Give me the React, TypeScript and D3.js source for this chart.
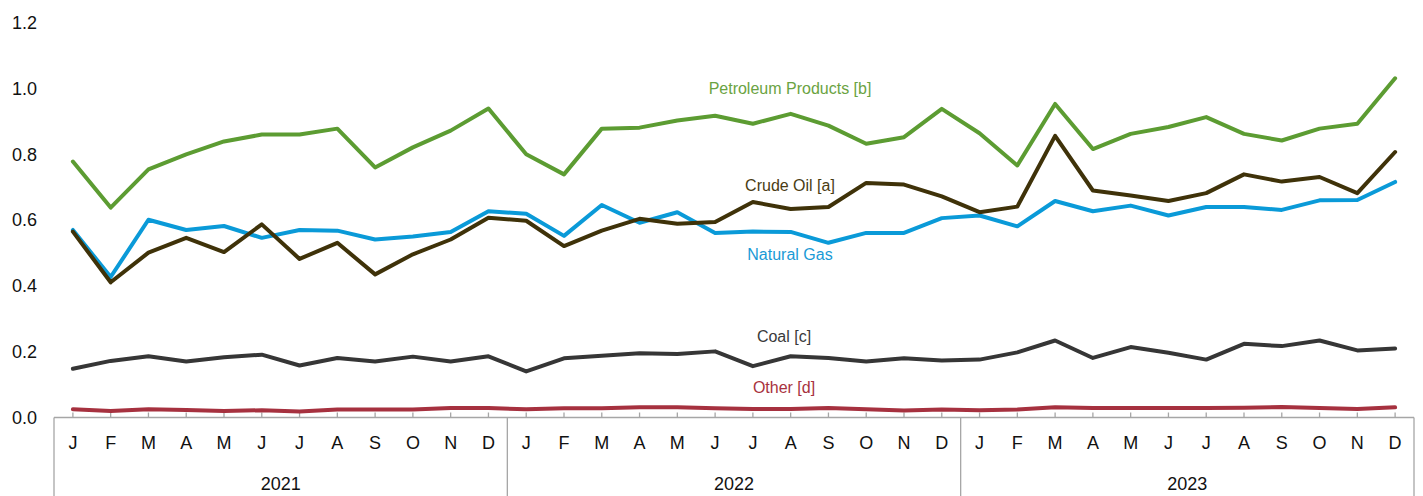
import React, { useEffect, useRef } from 'react';
import * as d3 from 'd3';

const years = ['2021', '2022', '2023'];
const monthLetters = ['J', 'F', 'M', 'A', 'M', 'J', 'J', 'A', 'S', 'O', 'N', 'D'];
const yTicks = [0, 0.2, 0.4, 0.6, 0.8, 1.0, 1.2];

const petroleum = [
  0.778, 0.638, 0.754, 0.80, 0.839, 0.860, 0.860, 0.878, 0.760, 0.821, 0.872, 0.939,
  0.800, 0.739, 0.878, 0.881, 0.903, 0.917, 0.893, 0.923, 0.887, 0.832, 0.852, 0.938,
  0.864, 0.766, 0.953, 0.816, 0.862, 0.883, 0.913, 0.862, 0.842, 0.878, 0.893, 1.031,
];
const crudeOil = [
  0.565, 0.411, 0.501, 0.546, 0.503, 0.587, 0.482, 0.531, 0.435, 0.496, 0.541, 0.607,
  0.598, 0.521, 0.568, 0.604, 0.589, 0.594, 0.655, 0.634, 0.640, 0.713, 0.708, 0.672,
  0.624, 0.641, 0.856, 0.690, 0.675, 0.658, 0.682, 0.739, 0.717, 0.731, 0.682, 0.807,
];
const naturalGas = [
  0.570, 0.427, 0.601, 0.570, 0.582, 0.546, 0.570, 0.568, 0.541, 0.550, 0.564, 0.627,
  0.619, 0.552, 0.646, 0.592, 0.624, 0.561, 0.565, 0.564, 0.531, 0.561, 0.561, 0.606,
  0.614, 0.581, 0.658, 0.627, 0.644, 0.614, 0.640, 0.640, 0.631, 0.660, 0.661, 0.716,
];
const coal = [
  0.148, 0.172, 0.186, 0.170, 0.183, 0.191, 0.158, 0.181, 0.170, 0.185, 0.170, 0.186,
  0.140, 0.180, 0.188, 0.195, 0.193, 0.201, 0.156, 0.186, 0.181, 0.170, 0.180, 0.173,
  0.176, 0.198, 0.234, 0.181, 0.214, 0.197, 0.176, 0.224, 0.217, 0.234, 0.204, 0.210,
];
const other = [
  0.025, 0.020, 0.025, 0.023, 0.020, 0.022, 0.018, 0.024, 0.024, 0.024, 0.029, 0.029,
  0.025, 0.028, 0.028, 0.031, 0.031, 0.028, 0.026, 0.026, 0.029, 0.025, 0.021, 0.024,
  0.022, 0.024, 0.031, 0.029, 0.029, 0.029, 0.029, 0.030, 0.032, 0.029, 0.026, 0.031,
];

const seriesList = [
  { name: 'Other [d]', values: other, color: '#a6313f', labelColor: '#a8323e', labelValue: 0.093, labelX: 784 },
  { name: 'Coal [c]', values: coal, color: '#363636', labelColor: '#3a3a3a', labelValue: 0.246, labelX: 784 },
  { name: 'Natural Gas', values: naturalGas, color: '#0a9ad8', labelColor: '#1a9ad6', labelValue: 0.497, labelX: 790 },
  { name: 'Crude Oil [a]', values: crudeOil, color: '#3f3209', labelColor: '#4a3c14', labelValue: 0.706, labelX: 790 },
  { name: 'Petroleum Products [b]', values: petroleum, color: '#5c9c32', labelColor: '#6aa342', labelValue: 1.0, labelX: 790 },
];

const WIDTH = 1423;
const HEIGHT = 496;

function drawChart(node: SVGSVGElement) {
  const svg = d3.select(node);
  svg.selectAll('*').remove();

  const left = 54;
  const right = 1414;
  const axisY = 417.5;
  const months = d3.range(years.length * 12);

  const x = d3.scaleBand<number>().domain(months).range([left, right]);
  const cx = (i: number) => (x(i) as number) + x.bandwidth() / 2;
  const y = d3.scaleLinear().domain([0, 1.2]).range([axisY, 22.7]);

  const font = 'Arial, "Liberation Sans", sans-serif';

  // y tick labels (no axis line)
  svg.append('g')
    .selectAll('text')
    .data(yTicks)
    .join('text')
    .attr('x', 37)
    .attr('y', (d) => y(d))
    .attr('dy', '0.35em')
    .attr('text-anchor', 'end')
    .attr('font-family', font)
    .attr('font-size', 18)
    .attr('fill', '#111')
    .text((d) => d.toFixed(1));

  const axisColor = '#a6a6a6';
  const axis = svg.append('g').attr('stroke', axisColor).attr('stroke-width', 1.3);

  axis.append('line')
    .attr('x1', left).attr('x2', right)
    .attr('y1', axisY).attr('y2', axisY);

  // month ticks pointing up
  axis.selectAll('line.tick')
    .data(months)
    .join('line')
    .attr('class', 'tick')
    .attr('x1', (d) => cx(d)).attr('x2', (d) => cx(d))
    .attr('y1', axisY - 5).attr('y2', axisY);

  // year separators
  axis.selectAll('line.sep')
    .data(d3.range(years.length + 1))
    .join('line')
    .attr('class', 'sep')
    .attr('x1', (d) => (d === years.length ? right : (x(d * 12) as number)))
    .attr('x2', (d) => (d === years.length ? right : (x(d * 12) as number)))
    .attr('y1', axisY).attr('y2', HEIGHT);

  svg.append('g')
    .selectAll('text')
    .data(months)
    .join('text')
    .attr('x', (d) => cx(d))
    .attr('y', 443)
    .attr('dy', '0.35em')
    .attr('text-anchor', 'middle')
    .attr('font-family', font)
    .attr('font-size', 18)
    .attr('fill', '#111')
    .text((d) => monthLetters[d % 12]);

  svg.append('g')
    .selectAll('text')
    .data(years)
    .join('text')
    .attr('x', (_, i) => ((x(i * 12) as number) + (x(i * 12 + 11) as number) + x.bandwidth()) / 2)
    .attr('y', 484)
    .attr('dy', '0.35em')
    .attr('text-anchor', 'middle')
    .attr('font-family', font)
    .attr('font-size', 18)
    .attr('fill', '#111')
    .text((d) => d);

  const line = d3.line<number>()
    .x((_, i) => cx(i))
    .y((d) => y(d));

  svg.append('g')
    .selectAll('path')
    .data(seriesList)
    .join('path')
    .attr('d', (s) => line(s.values))
    .attr('fill', 'none')
    .attr('stroke', (s) => s.color)
    .attr('stroke-width', 4)
    .attr('stroke-linejoin', 'round')
    .attr('stroke-linecap', 'round');

  // series labels, placed near the middle of 2022
  svg.append('g')
    .selectAll('text')
    .data(seriesList)
    .join('text')
    .attr('x', (s) => s.labelX)
    .attr('y', (s) => y(s.labelValue))
    .attr('dy', '0.35em')
    .attr('text-anchor', 'middle')
    .attr('font-family', font)
    .attr('font-size', 16)
    .attr('fill', (s) => s.labelColor)
    .text((s) => s.name);
}

export default function App() {
  const ref = useRef<SVGSVGElement>(null);

  useEffect(() => {
    if (ref.current) drawChart(ref.current);
  }, []);

  return (
    <svg
      ref={ref}
      width={WIDTH}
      height={HEIGHT}
      style={{ position: 'absolute', left: 0, top: 0, background: '#fff' }}
    />
  );
}
